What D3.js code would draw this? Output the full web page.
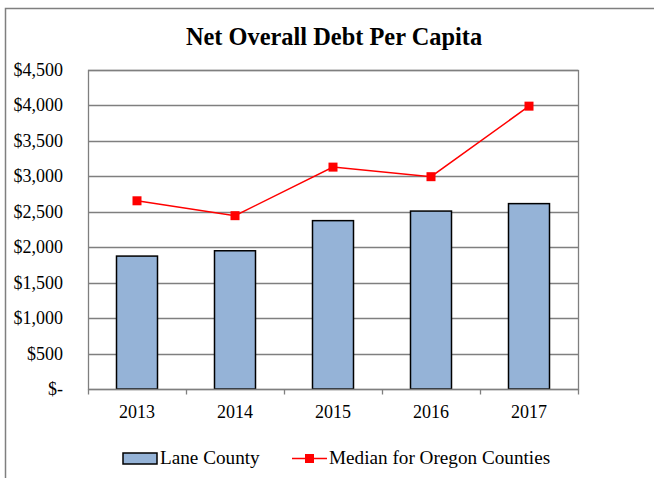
<!DOCTYPE html>
<html>
<head>
<meta charset="utf-8">
<script src="https://cdn.jsdelivr.net/npm/d3@7"></script>
<style>
  body { margin: 0; background: #fff; }
  svg text { font-family: "Liberation Serif", "Times New Roman", serif; fill: #000; }
</style>
</head>
<body>
<svg id="chart" width="654" height="478"></svg>
<script>
var years = ['2013', '2014', '2015', '2016', '2017'];
var lane_county = [1875, 1950, 2375, 2510, 2615];
var oregon_median = [2655, 2445, 3130, 2995, 3990];
var y_ticks = [0, 500, 1000, 1500, 2000, 2500, 3000, 3500, 4000, 4500];

var svg = d3.select('#chart');
var margin = { left: 88, top: 70, right: 578, bottom: 389 };

// outer frame (right and bottom are cut off in the source)
svg.append('path')
    .attr('d', 'M 5.5 478 L 5.5 8.5 L 654 8.5')
    .attr('fill', 'none').attr('stroke', '#7f7f7f').attr('stroke-width', 1.5);

svg.append('text')
    .attr('x', 334).attr('y', 45)
    .attr('text-anchor', 'middle')
    .attr('font-size', 24.4).attr('font-weight', 'bold')
    .text('Net Overall Debt Per Capita');

var x = d3.scaleBand().domain(years).range([margin.left, margin.right]).paddingInner(0).paddingOuter(0);
var y = d3.scaleLinear().domain([0, 4500]).range([margin.bottom, margin.top]);

// gridlines
svg.append('g').selectAll('line').data(y_ticks.slice(1)).enter().append('line')
    .attr('x1', margin.left).attr('x2', margin.right)
    .attr('y1', function(d){ return Math.round(y(d)) + 0.5; })
    .attr('y2', function(d){ return Math.round(y(d)) + 0.5; })
    .attr('stroke', '#7f7f7f').attr('stroke-width', 1.3);

// plot border
svg.append('rect')
    .attr('x', margin.left + 0.5).attr('y', margin.top + 0.5)
    .attr('width', margin.right - margin.left).attr('height', margin.bottom - margin.top)
    .attr('fill', 'none').attr('stroke', '#7f7f7f').attr('stroke-width', 1.3);

// y axis labels
svg.append('g').selectAll('text').data(y_ticks).enter().append('text')
    .attr('x', 63)
    .attr('y', function(d){ return y(d) + 6; })
    .attr('text-anchor', 'end')
    .attr('font-size', 18)
    .text(function(d){ return d == 0 ? '$-' : '$' + d3.format(',')(d); });

// bars
var bar_w = 41;
svg.append('g').selectAll('rect').data(years).enter().append('rect')
    .attr('x', function(d){ return x(d) + x.bandwidth()/2 - bar_w/2; })
    .attr('y', function(d, i){ return y(lane_county[i]); })
    .attr('width', bar_w)
    .attr('height', function(d, i){ return y(0) - y(lane_county[i]); })
    .attr('fill', '#95b3d7').attr('stroke', '#000').attr('stroke-width', 1.5);

// x axis
var x_axis = svg.append('g').attr('transform', 'translate(0,' + (margin.bottom + 0.5) + ')');
x_axis.append('line').attr('x1', margin.left).attr('x2', margin.right + 1)
    .attr('stroke', '#7f7f7f').attr('stroke-width', 1.3);
var tick_pos = years.map(function(d){ return x(d); }).concat([margin.right]);
x_axis.selectAll('.tick').data(tick_pos).enter().append('line')
    .attr('x1', function(d){ return d + 0.5; }).attr('x2', function(d){ return d + 0.5; })
    .attr('y1', 0).attr('y2', 5)
    .attr('stroke', '#7f7f7f').attr('stroke-width', 1.3);
x_axis.selectAll('text').data(years).enter().append('text')
    .attr('x', function(d){ return x(d) + x.bandwidth()/2; })
    .attr('y', 28)
    .attr('text-anchor', 'middle')
    .attr('font-size', 18)
    .text(function(d){ return d; });

// median line
var line = d3.line()
    .x(function(d, i){ return x(years[i]) + x.bandwidth()/2; })
    .y(function(d){ return y(d); });
svg.append('path').datum(oregon_median)
    .attr('d', line)
    .attr('fill', 'none').attr('stroke', '#ff0000').attr('stroke-width', 1.5);
svg.append('g').selectAll('rect').data(oregon_median).enter().append('rect')
    .attr('x', function(d, i){ return x(years[i]) + x.bandwidth()/2 - 4.5; })
    .attr('y', function(d){ return y(d) - 4.5; })
    .attr('width', 9).attr('height', 9)
    .attr('fill', '#ff0000');

// legend
var legend = svg.append('g');
legend.append('rect').attr('x', 123).attr('y', 453).attr('width', 34).attr('height', 11)
    .attr('fill', '#95b3d7').attr('stroke', '#000').attr('stroke-width', 1.5);
legend.append('text').attr('x', 160).attr('y', 464).attr('font-size', 19.2).text('Lane County');
legend.append('line').attr('x1', 292).attr('x2', 327).attr('y1', 458.5).attr('y2', 458.5)
    .attr('stroke', '#ff0000').attr('stroke-width', 1.5);
legend.append('rect').attr('x', 305).attr('y', 454).attr('width', 9).attr('height', 9).attr('fill', '#ff0000');
legend.append('text').attr('x', 329).attr('y', 464).attr('font-size', 19.2).text('Median for Oregon Counties');
</script>
</body>
</html>
